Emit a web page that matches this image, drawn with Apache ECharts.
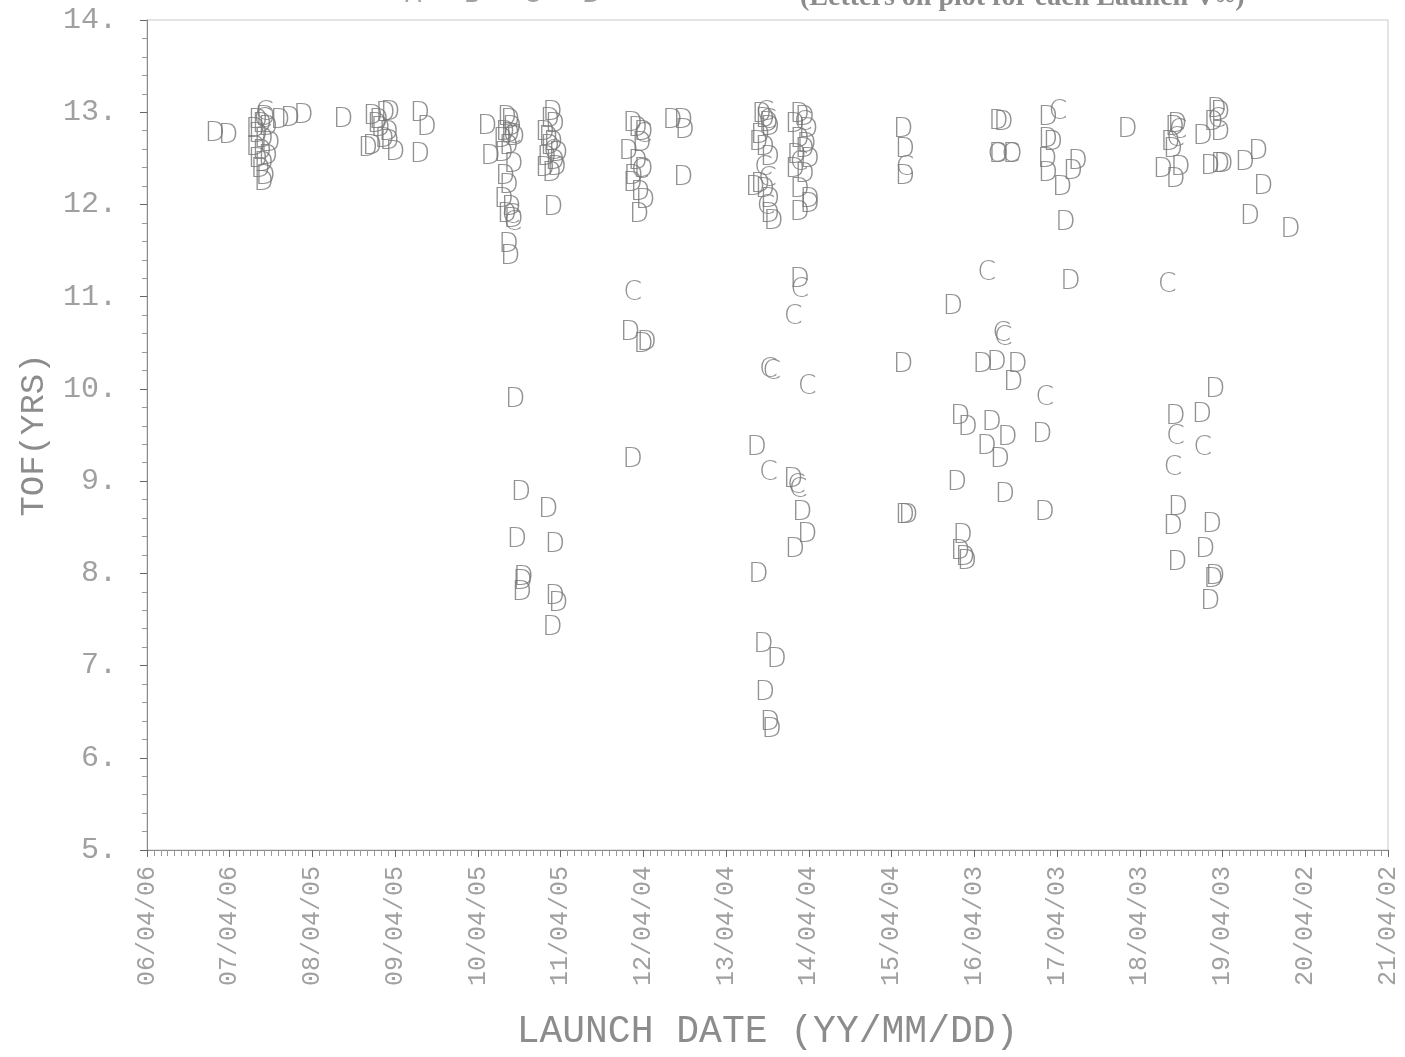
<!DOCTYPE html>
<html>
<head>
<meta charset="utf-8">
<script src="https://cdn.jsdelivr.net/npm/echarts@6/dist/echarts.min.js"></script>
<style>
  html, body { margin: 0; padding: 0; background: #fff; }
  #chart { width: 1405px; height: 1057px; }
</style>
</head>
<body>
<div id="chart"></div>
<script>
// launch date tick labels (YY/MM/DD), one per year from the start of the window
const xTickLabels = ['06/04/06', '07/04/06', '08/04/05', '09/04/05', '10/04/05', '11/04/05',
    '12/04/04', '13/04/04', '14/04/04', '15/04/04', '16/04/03', '17/04/03',
    '18/04/03', '19/04/03', '20/04/02', '21/04/02'];

// [years after 06/04/06, TOF in years] for points drawn as "C"
const letterC = [
    [1.42, 12.99], [1.40, 12.92],
    [4.41, 12.74], [4.40, 11.88], [4.42, 11.80], [4.90, 12.57],
    [5.96, 12.36], [5.99, 12.75], [5.87, 11.04],
    [7.47, 12.99], [7.50, 12.90], [7.45, 12.40], [7.50, 12.28], [7.48, 11.97],
    [7.93, 12.88], [7.88, 12.45],
    [7.89, 11.07], [7.81, 10.78], [7.51, 10.20], [7.55, 10.18], [7.98, 10.02],
    [7.51, 9.09], [7.87, 8.90], [7.85, 8.95],
    [9.16, 12.40], [10.27, 12.54], [10.44, 12.54], [11.01, 13.00],
    [12.46, 12.80], [12.43, 12.71], [12.93, 12.92],
    [10.15, 11.26], [12.33, 11.13], [10.33, 10.59], [10.35, 10.55], [10.85, 9.90],
    [12.43, 9.48], [12.76, 9.36], [12.40, 9.14]
];

// [years after 06/04/06, TOF in years] for points drawn as "D"
const letterD = [
    [0.82, 12.76], [0.98, 12.74],
    [1.34, 12.90], [1.43, 12.94], [1.39, 12.86], [1.31, 12.81], [1.46, 12.83], [1.34, 12.75],
    [1.41, 12.70], [1.49, 12.66], [1.31, 12.61], [1.39, 12.57], [1.46, 12.52], [1.34, 12.48],
    [1.41, 12.44], [1.37, 12.37], [1.43, 12.30], [1.41, 12.23],
    [1.61, 12.90], [1.73, 12.93], [1.89, 12.96], [2.37, 12.92],
    [2.73, 12.95], [2.80, 12.90], [2.88, 12.98], [2.94, 12.99], [2.82, 12.82], [2.92, 12.78],
    [2.78, 12.86], [2.67, 12.60], [2.72, 12.62], [3.00, 12.56], [2.87, 12.70], [2.93, 12.68],
    [3.30, 12.98], [3.38, 12.83], [3.30, 12.54],
    [4.11, 12.84], [4.15, 12.51],
    [4.35, 12.94], [4.39, 12.90], [4.41, 12.83], [4.33, 12.77], [4.30, 12.70], [4.39, 12.75],
    [4.45, 12.72], [4.37, 12.62], [4.31, 12.55], [4.43, 12.43], [4.33, 12.30], [4.37, 12.20],
    [4.31, 12.05], [4.40, 11.96], [4.35, 11.89], [4.43, 11.83], [4.37, 11.56], [4.39, 11.43],
    [4.90, 12.99], [4.87, 12.92], [4.93, 12.86], [4.81, 12.78], [4.85, 12.72], [4.91, 12.67],
    [4.87, 12.62], [4.97, 12.55], [4.83, 12.50], [4.93, 12.46], [4.81, 12.38], [4.89, 12.33],
    [4.95, 12.40], [4.91, 11.96],
    [4.45, 9.88], [4.52, 8.87], [4.85, 8.69], [4.47, 8.36], [4.93, 8.31], [4.54, 7.91],
    [4.55, 7.95], [4.53, 7.79], [4.93, 7.74], [4.97, 7.67], [4.90, 7.41],
    [5.87, 12.87], [5.93, 12.82], [6.00, 12.77], [5.82, 12.57], [5.93, 12.46], [6.00, 12.37],
    [5.87, 12.22], [5.96, 12.12], [6.02, 12.04], [5.95, 11.89], [5.88, 12.30], [5.98, 12.66],
    [6.35, 12.91], [6.48, 12.91], [6.50, 12.80], [6.48, 12.29],
    [5.84, 10.61], [6.04, 10.50], [6.00, 10.48], [5.87, 9.23],
    [7.43, 12.97], [7.47, 12.92], [7.51, 12.87], [7.53, 12.83], [7.41, 12.74], [7.39, 12.67],
    [7.47, 12.61], [7.53, 12.50], [7.41, 12.21], [7.47, 12.16], [7.35, 12.18], [7.53, 12.05],
    [7.53, 11.89], [7.57, 11.81],
    [7.89, 12.97], [7.95, 12.94], [7.83, 12.86], [7.99, 12.81], [7.89, 12.70], [7.95, 12.59],
    [8.01, 12.48], [7.83, 12.37], [7.95, 12.32], [7.89, 12.16], [8.01, 12.05], [7.89, 11.91],
    [8.01, 11.99], [7.85, 12.53], [7.97, 12.64],
    [7.89, 11.18], [7.37, 9.36], [7.81, 9.01], [7.92, 8.65], [7.98, 8.42], [7.83, 8.25],
    [7.39, 7.98], [7.45, 7.22], [7.61, 7.06], [7.47, 6.70], [7.53, 6.38], [7.55, 6.30],
    [9.14, 12.81], [9.16, 12.59], [9.16, 12.30],
    [10.29, 12.89], [10.35, 12.88], [10.29, 12.54], [10.46, 12.54],
    [10.89, 12.94], [10.89, 12.70], [10.95, 12.67], [10.88, 12.48], [10.89, 12.33],
    [11.06, 12.18], [11.25, 12.46], [11.19, 12.35], [11.10, 11.80], [11.85, 12.81],
    [12.45, 12.86], [12.37, 12.67], [12.40, 12.59], [12.28, 12.37], [12.43, 12.27],
    [12.49, 12.40], [12.42, 12.83],
    [12.93, 13.02], [12.97, 12.99], [12.89, 12.88], [12.97, 12.77], [12.76, 12.73],
    [12.85, 12.41], [12.97, 12.43], [13.01, 12.43],
    [13.27, 12.45], [13.43, 12.57], [13.49, 12.19], [13.33, 11.86], [13.82, 11.72],
    [11.16, 11.16], [9.74, 10.89],
    [9.14, 10.26], [10.10, 10.26], [10.27, 10.28], [10.52, 10.26], [10.47, 10.06],
    [9.83, 9.70], [9.92, 9.58], [10.21, 9.63], [10.40, 9.47], [10.15, 9.37], [10.31, 9.23],
    [10.82, 9.50], [9.79, 8.98], [10.37, 8.85], [10.85, 8.65], [9.16, 8.62], [9.20, 8.62],
    [9.86, 8.41], [9.83, 8.23], [9.89, 8.17], [9.91, 8.12],
    [12.91, 9.99], [12.43, 9.70], [12.75, 9.72],
    [12.46, 8.71], [12.40, 8.50], [12.87, 8.52], [12.79, 8.25], [12.45, 8.11],
    [12.91, 7.96], [12.89, 7.93], [12.85, 7.69]
];

const axisGray = '#8a8a8a';
const textGray = '#a0a0a0';
const letterGray = '#777';

function letterSeries(letter, data) {
    return {
        type: 'scatter',
        name: letter,
        data: data,
        symbol: 'circle',
        symbolSize: 18,
        silent: true,
        itemStyle: { color: 'rgba(0,0,0,0)' },
        label: {
            show: true,
            position: 'inside',
            formatter: letter,
            color: letterGray,
            fontFamily: 'DejaVu Sans',
            fontWeight: 200,
            fontSize: 27
        }
    };
}

let chart = echarts.init(document.getElementById('chart'));

chart.setOption({
    animation: false,
    backgroundColor: '#fff',
    grid: {
        left: 147, right: 17, top: 20, bottom: 207,
        outerBoundsMode: 'none',
        containLabel: false,
        show: true,
        borderColor: '#c8c8c8',
        borderWidth: 1
    },
    graphic: [
        {
            type: 'text', left: 405, top: -16,
            style: {
                text: 'A  \u2013  B  \u2013  C  \u2013  D',
                fontFamily: 'DejaVu Sans', fontSize: 24, fill: '#a0a0a0'
            }
        },
        {
            type: 'text', left: 800, top: -16,
            style: {
                text: '(Letters on plot for each Launch V\u221e)',
                fontFamily: 'Liberation Serif', fontWeight: 'bold', fontSize: 28, fill: '#8c8c8c'
            }
        }
    ],
    xAxis: {
        type: 'value',
        min: 0,
        max: 15,
        interval: 1,
        name: 'LAUNCH DATE (YY/MM/DD)',
        nameLocation: 'middle',
        nameGap: 163,
        nameTextStyle: { fontFamily: 'Liberation Mono', fontSize: 38, color: '#8c8c8c' },
        axisLine: { lineStyle: { color: axisGray, width: 1 } },
        axisTick: { length: 7, lineStyle: { color: '#666' } },
        minorTick: { show: true, splitNumber: 12, length: 6, lineStyle: { color: '#999' } },
        splitLine: { show: false },
        axisLabel: {
            rotate: 90,
            margin: 16,
            fontFamily: 'Liberation Mono',
            fontSize: 25,
            color: textGray,
            formatter: function (v) { return xTickLabels[Math.round(v)]; }
        }
    },
    yAxis: {
        type: 'value',
        min: 5,
        max: 14,
        interval: 1,
        name: 'TOF(YRS)',
        nameLocation: 'middle',
        nameGap: 96,
        nameRotate: 90,
        nameTextStyle: { fontFamily: 'Liberation Mono', fontSize: 34, color: '#8c8c8c' },
        axisLine: { show: true, lineStyle: { color: axisGray, width: 1 } },
        axisTick: { show: true, length: 7, lineStyle: { color: '#666' } },
        minorTick: { show: true, splitNumber: 5, length: 5, lineStyle: { color: '#999' } },
        splitLine: { show: false },
        axisLabel: {
            margin: 30,
            fontFamily: 'Liberation Mono',
            fontSize: 30,
            color: textGray,
            formatter: function (v) { return v + '.'; }
        }
    },
    series: [
        letterSeries('C', letterC),
        letterSeries('D', letterD)
    ]
});
</script>
</body>
</html>
